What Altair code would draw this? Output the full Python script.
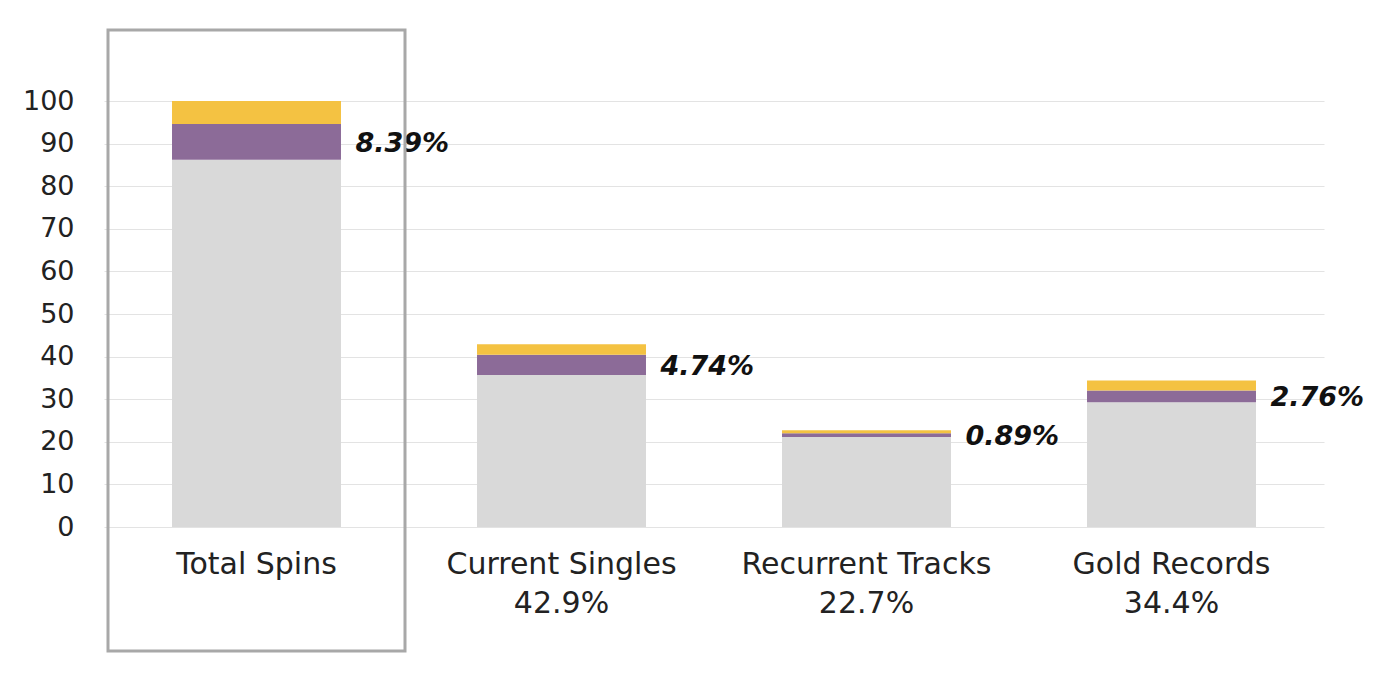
import altair as alt
import pandas as pd

categories = ["Total Spins", "Current Singles", "Recurrent Tracks", "Gold Records"]
share_labels = ["", "42.9%", "22.7%", "34.4%"]
base_vals = [86.2, 35.7, 21.1, 29.3]
purple_vals = [8.39, 4.74, 0.89, 2.76]
yellow_vals = [5.41, 2.46, 0.71, 2.34]
purple_labels = ["8.39%", "4.74%", "0.89%", "2.76%"]

segments = ["base", "purple", "yellow"]
seg_colors = ["#D9D9D9", "#8C6B98", "#F4C242"]

x_labels = [c + ("\n" + s if s else "") for c, s in zip(categories, share_labels)]

rows = []
for i, xl in enumerate(x_labels):
    for j, (seg, vals) in enumerate(zip(segments, [base_vals, purple_vals, yellow_vals])):
        rows.append({"cat": xl, "segment": seg, "value": vals[i], "ord": j})
df = pd.DataFrame(rows)

lab_df = pd.DataFrame({
    "cat": x_labels,
    "label": purple_labels,
    "ymid": [b + p / 2 for b, p in zip(base_vals, purple_vals)],
})

FONT = "DejaVu Sans"

x_enc = alt.X(
    "cat:N",
    sort=x_labels,
    title=None,
    scale=alt.Scale(paddingInner=0.446, paddingOuter=0.223),
    axis=alt.Axis(
        labelExpr="split(datum.value, '\\n')",
        labelAngle=0,
        labelFontSize=30,
        labelFont=FONT,
        labelColor="#222222",
        labelLineHeight=39,
        labelPadding=22,
        labelLimit=0,
        ticks=False,
        domain=False,
        grid=False,
    ),
)

bars = alt.Chart(df).mark_bar().encode(
    x=x_enc,
    y=alt.Y(
        "value:Q",
        stack="zero",
        title=None,
        scale=alt.Scale(domain=[0, 100], nice=False),
        axis=alt.Axis(
            values=list(range(0, 101, 10)),
            labelFontSize=27,
            labelFont=FONT,
            labelColor="#222222",
            labelPadding=30,
            ticks=False,
            domain=False,
            gridColor="#E3E3E3",
            gridWidth=1,
        ),
    ),
    color=alt.Color("segment:N", scale=alt.Scale(domain=segments, range=seg_colors), legend=None),
    order=alt.Order("ord:Q"),
)

labels = alt.Chart(lab_df).mark_text(
    align="left", baseline="middle", dx=99, dy=2,
    font=FONT, fontSize=27, fontWeight="bold", fontStyle="italic", color="#111111",
).encode(
    x=alt.X("cat:N", sort=x_labels),
    y=alt.Y("ymid:Q"),
    text="label:N",
)

box = alt.Chart(pd.DataFrame({"k": [0]})).mark_rect(
    fill=None, stroke="#A8A8A8", strokeWidth=3, clip=False
).encode(
    x=alt.value(4), x2=alt.value(301), y=alt.value(-71), y2=alt.value(550)
)

chart = alt.layer(bars, labels, box).properties(
    width=1220,
    height=426,
    background="white",
    autosize=alt.AutoSizeParams(type="none"),
    padding={"left": 96, "top": 93, "right": 50, "bottom": 140},
).configure_view(stroke=None, strokeWidth=0)

chart.save("out.html", embed_options={"renderer": "svg", "actions": False})
